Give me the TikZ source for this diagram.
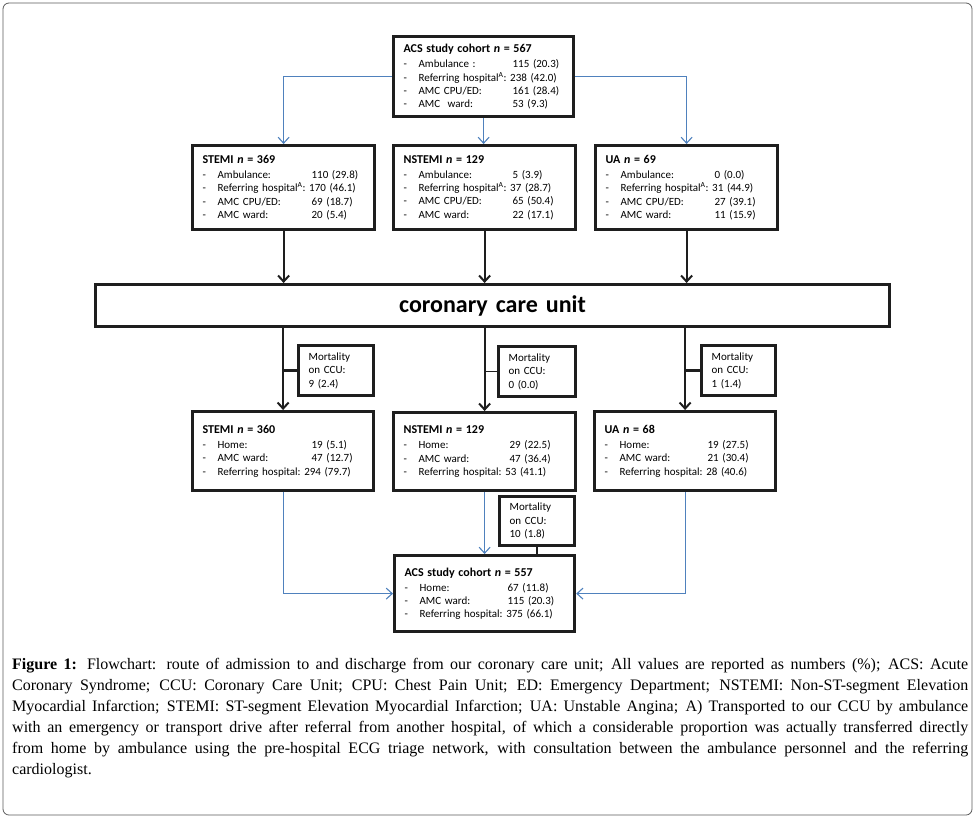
\documentclass[tikz,border=0pt]{standalone}
\usepackage{fontspec}
\setmainfont{Carlito}
\newfontfamily\capfont{Liberation Serif}
\usetikzlibrary{arrows.meta}
\definecolor{bordc}{HTML}{1E1E1E}
\definecolor{bluc}{HTML}{4F81BD}
\definecolor{framec}{HTML}{5A5A5A}
\newcommand{\rw}[3][94pt]{\mbox{\makebox[15pt][l]{-}\makebox[#1][l]{#2}#3}}
\newcommand{\rwn}[2]{\mbox{\makebox[15pt][l]{-}#1\ #2}}
\newcommand{\ttl}[1]{\mbox{\fontsize{12}{13}\selectfont\bfseries #1}}
\tikzset{
  fb/.style={draw=bordc, line width=3.2pt, fill=white, inner xsep=10pt, inner ysep=0pt,
    align=left, anchor=north west, font=\fontsize{11}{13.2}\selectfont},
  mort/.style={fb, font=\fontsize{11}{13.5}\selectfont, text width=55pt, minimum width=75pt, minimum height=50pt},
  blk/.style={draw=bordc, line width=2pt, -{Straight Barb[length=6pt,width=11pt]}},
  blu/.style={draw=bluc, line width=1.1pt, -{Straight Barb[length=6pt,width=11pt]}},
}
\begin{document}
\begin{tikzpicture}[x=1pt,y=-1pt]
\useasboundingbox (0,0) rectangle (976,822);
\draw[framec, line width=0.8pt, rounded corners=6pt] (3,3) rectangle (972,815);

% top
\node[fb, text width=160pt, minimum width=180pt, minimum height=80pt] (top) at (392,35)
 {\ttl{ACS study cohort \textit{n} = 567}\\[2pt]
  \rw{Ambulance :}{115 (20.3)}\\
  \rwn{Referring hospital\textsuperscript{A}:}{238 (42.0)}\\
  \rw{AMC CPU/ED:}{161 (28.4)}\\
  \rw{AMC\ \ ward:}{53 (9.3)}};

% admission row
\node[fb, text width=162pt, minimum width=182pt, minimum height=84pt] (s1) at (191,144)
 {\ttl{STEMI \textit{n} = 369}\\[2pt]
  \rw{Ambulance:}{110 (29.8)}\\
  \rwn{Referring hospital\textsuperscript{A}:}{170 (46.1)}\\
  \rw{AMC CPU/ED:}{69 (18.7)}\\
  \rw{AMC ward:}{20 (5.4)}};
\node[fb, text width=162pt, minimum width=182pt, minimum height=84pt] (n1) at (392,144)
 {\ttl{NSTEMI \textit{n} = 129}\\[2pt]
  \rw{Ambulance:}{5 (3.9)}\\
  \rwn{Referring hospital\textsuperscript{A}:}{37 (28.7)}\\
  \rw{AMC CPU/ED:}{65 (50.4)}\\
  \rw{AMC ward:}{22 (17.1)}};
\node[fb, text width=162pt, minimum width=182pt, minimum height=84pt] (u1) at (594,144)
 {\ttl{UA \textit{n} = 69}\\[2pt]
  \rw{Ambulance:}{0 (0.0)}\\
  \rwn{Referring hospital\textsuperscript{A}:}{31 (44.9)}\\
  \rw{AMC CPU/ED:}{27 (39.1)}\\
  \rw{AMC ward:}{11 (15.9)}};

% CCU
\node[fb, line width=3pt, align=center, text width=774pt, minimum width=794pt, minimum height=42pt,
  font=\fontsize{24}{28}\selectfont\bfseries] (ccu) at (94,283) {coronary care unit};

% mortality
\node[mort] (m1) at (297,344) {Mortality\\on CCU:\\9 (2.4)};
\node[mort, minimum width=77pt, text width=57pt] (m2) at (497,345) {Mortality\\on CCU:\\0 (0.0)};
\node[mort, minimum width=74pt, text width=54pt] (m3) at (700,344) {Mortality\\on CCU:\\1 (1.4)};

% discharge row
\node[fb, text width=161pt, minimum width=181pt, minimum height=79pt] (s2) at (191,410)
 {\ttl{STEMI \textit{n} = 360}\\[2pt]
  \rw{Home:}{19 (5.1)}\\
  \rw{AMC ward:}{47 (12.7)}\\
  \rwn{Referring hospital:}{294 (79.7)}};
\node[fb, text width=162pt, minimum width=182pt, minimum height=78pt] (n2) at (392,411)
 {\ttl{NSTEMI \textit{n} = 129}\\[2pt]
  \rw[91pt]{Home:}{29 (22.5)}\\
  \rw[91pt]{AMC ward:}{47 (36.4)}\\
  \rwn{Referring hospital:}{53 (41.1)}};
\node[fb, text width=161pt, minimum width=181pt, minimum height=79pt] (u2) at (593,410)
 {\ttl{UA \textit{n} = 68}\\[2pt]
  \rw[88pt]{Home:}{19 (27.5)}\\
  \rw[88pt]{AMC ward:}{21 (30.4)}\\
  \rwn{Referring hospital:}{28 (40.6)}};

\node[mort, minimum height=49pt] (m4) at (498,495) {Mortality\\on CCU:\\10 (1.8)};

\node[fb, text width=160pt, minimum width=180pt, minimum height=76pt] (bot) at (393,554)
 {\ttl{ACS study cohort \textit{n} = 557}\\[2pt]
  \rw[88pt]{Home:}{67 (11.8)}\\
  \rw[88pt]{AMC ward:}{115 (20.3)}\\
  \rwn{Referring hospital:}{375 (66.1)}};

% blue connectors
\draw[blu] (top.west) -| (s1.north);
\draw[blu] (top.south) -- (top.south |- n1.north);
\draw[blu] (top.east) -| (u1.north);
\draw[blu] (s2.south) |- (bot.west);
\draw[blu] (n2.south) -- (n2.south |- bot.north);
\draw[blu] (u2.south) |- (bot.east);

% black connectors
\draw[blk] (s1.south) -- (s1.south |- ccu.north);
\draw[blk] (n1.south) -- (n1.south |- ccu.north);
\draw[blk] (u1.south) -- (u1.south |- ccu.north);
\draw[blk] (ccu.south -| s2.north) -- (s2.north);
\draw[blk] (ccu.south -| n2.north) -- (n2.north);
\draw[blk] (ccu.south -| u2.north) -- (u2.north);
\draw[draw=bordc, line width=3.5pt] (m1.west) -- (m1.west -| s2.north);
\draw[draw=bordc, line width=1.5pt] (m2.west) -- (m2.west -| n2.north);
\draw[draw=bordc, line width=3.5pt] (m3.west) -- (m3.west -| u2.north);
\draw[draw=bordc, line width=2pt] (m4.south) -- (m4.south |- bot.north);

% caption
\node[anchor=north west, inner sep=0pt, text width=956pt, align=justify,
  font=\capfont\fontsize{16}{21}\selectfont] (cap) at (12,658)
 {\textbf{Figure 1:} Flowchart: route of admission to and discharge from our coronary care unit; All values are reported as numbers (\%); ACS: Acute\linebreak
 Coronary Syndrome; CCU: Coronary Care Unit; CPU: Chest Pain Unit; ED: Emergency Department; NSTEMI: Non-ST-segment Elevation\linebreak
 Myocardial Infarction; STEMI: ST-segment Elevation Myocardial Infarction; UA: Unstable Angina; A) Transported to our CCU by ambulance\linebreak
 with an emergency or transport drive after referral from another hospital, of which a considerable proportion was actually transferred directly\linebreak
 from home by ambulance using the pre-hospital ECG triage network, with consultation between the ambulance personnel and the referring\linebreak
 cardiologist.};
\end{tikzpicture}
\end{document}
